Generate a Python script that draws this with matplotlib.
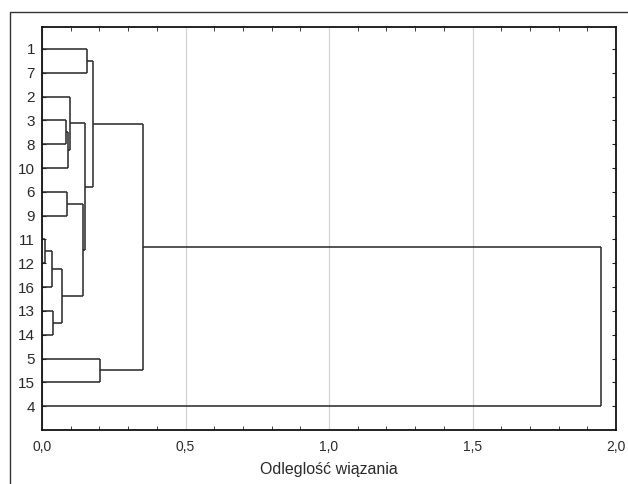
import matplotlib
matplotlib.use("Agg")
import matplotlib.pyplot as plt
from matplotlib.lines import Line2D
from matplotlib.ticker import MultipleLocator

plt.rcParams['font.family'] = ['Liberation Sans', 'DejaVu Sans']

# Leaf order along the vertical axis (top to bottom)
leaves = ['1', '7', '2', '3', '8', '10', '6', '9', '11', '12', '16', '13', '14', '5', '15', '4']

# Merges: (left member, right member, linkage distance); 'Nk' = result of k-th merge
merges = [
    ('1', '7', 0.157),      # N0
    ('3', '8', 0.085),      # N1
    ('N1', '10', 0.090),    # N2
    ('2', 'N2', 0.097),     # N3
    ('6', '9', 0.086),      # N4
    ('11', '12', 0.011),    # N5
    ('N5', '16', 0.035),    # N6
    ('13', '14', 0.039),    # N7
    ('N6', 'N7', 0.069),    # N8
    ('N4', 'N8', 0.143),    # N9
    ('N3', 'N9', 0.149),    # N10
    ('N0', 'N10', 0.177),   # N11
    ('5', '15', 0.202),     # N12
    ('N11', 'N12', 0.351),  # N13
    ('N13', '4', 1.948),    # N14
]

xtick_vals = [0.0, 0.5, 1.0, 1.5, 2.0]
xtick_labels = ['0,0', '0,5', '1,0', '1,5', '2,0']
xlabel = 'Odleglość wiązania'

W, H = 628, 484
fig = plt.figure(figsize=(W / 100, H / 100), dpi=100)
ax = fig.add_axes([42 / W, 1 - 430 / H, (616 - 42) / W, (430 - 27) / H])

pos = {lab: (i + 1, 0.0) for i, lab in enumerate(leaves)}
lc = '#262626'
for k, (a, b, d) in enumerate(merges):
    ya, ha = pos[a]
    yb, hb = pos[b]
    ax.plot([ha, d], [ya, ya], color=lc, lw=1.1, solid_capstyle='butt')
    ax.plot([hb, d], [yb, yb], color=lc, lw=1.1, solid_capstyle='butt')
    ax.plot([d, d], [ya, yb], color=lc, lw=1.1, solid_capstyle='butt')
    pos['N%d' % k] = ((ya + yb) / 2, d)

tc = '#2a2a2a'
ax.set_xlim(0, 2.0)
ax.set_ylim(17.0, 0.08)
ax.set_yticks(range(1, len(leaves) + 1))
ax.set_yticklabels(leaves, fontsize=11, color=tc)
ax.set_xticks(xtick_vals)
ax.set_xticklabels(xtick_labels, fontsize=10, color=tc)
ax.xaxis.set_minor_locator(MultipleLocator(0.1))
ax.tick_params(axis='x', which='major', length=0, pad=7)
ax.tick_params(axis='x', which='minor', direction='in', length=3, top=True, bottom=True, color='#222222')
ax.tick_params(axis='y', which='major', direction='in', length=3, left=True, right=True, pad=5, color='#222222')
ax.grid(axis='x', which='major', color='#d4d4d4', lw=0.9)
ax.set_axisbelow(True)
for s in ax.spines.values():
    s.set_linewidth(1.3)
    s.set_color('#111111')
ax.set_xlabel(xlabel, fontsize=11.5, labelpad=6, color=tc)

# outer panel border (left and top)
fig.add_artist(Line2D([10 / W, 10 / W, 1.0], [0.0, 1 - 12 / H, 1 - 12 / H],
                      transform=fig.transFigure, color='#333333', lw=1.0))

fig.savefig('out.png', dpi=100)
